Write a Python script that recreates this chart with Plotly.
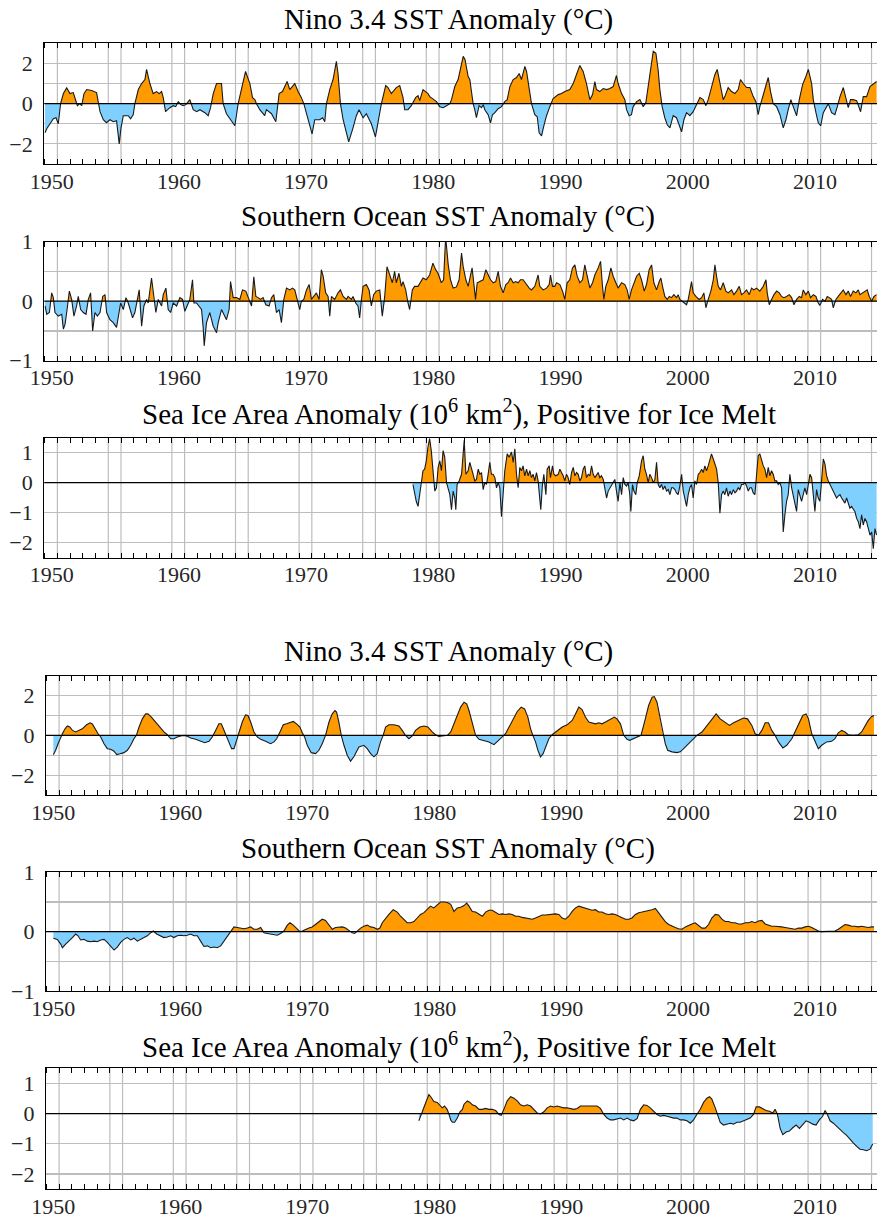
import plotly.graph_objects as go

# ---------------- data ----------------
NINO_T = [1949.48, 1949.61, 1949.87, 1950.13, 1950.34, 1950.52, 1950.70, 1950.92, 1951.18, 1951.44,
          1951.70, 1951.83, 1952.02, 1952.20, 1952.36, 1952.54, 1952.75, 1953.14, 1953.53, 1953.80,
          1954.06, 1954.30, 1954.58, 1954.85, 1955.10, 1955.31, 1955.45, 1955.63, 1956.02, 1956.20,
          1956.41, 1956.54, 1956.81, 1957.07, 1957.33, 1957.46, 1957.60, 1957.72, 1957.98, 1958.25,
          1958.45, 1958.64, 1958.77, 1958.95, 1959.29, 1959.55, 1959.75, 1959.95, 1960.15, 1960.34,
          1960.55, 1960.86, 1961.13, 1961.40, 1961.65, 1962.04, 1962.30, 1962.49, 1962.70, 1962.96,
          1963.35, 1963.48, 1963.74, 1964.14, 1964.40, 1964.66, 1965.00, 1965.24, 1965.58, 1965.79,
          1965.97, 1966.10, 1966.36, 1966.75, 1966.88, 1967.28, 1967.62, 1967.88, 1968.14, 1968.51,
          1968.72, 1969.11, 1969.37, 1969.63, 1969.82, 1970.16, 1970.47, 1970.68, 1971.07, 1971.30,
          1971.47, 1971.60, 1971.86, 1972.12, 1972.38, 1972.51, 1972.70, 1972.91, 1973.17, 1973.35,
          1973.69, 1973.95, 1974.16, 1974.48, 1974.74, 1975.13, 1975.45, 1975.65, 1975.92, 1976.26,
          1976.44, 1976.70, 1977.09, 1977.36, 1977.62, 1977.75, 1978.01, 1978.27, 1978.61, 1978.80,
          1978.93, 1979.19, 1979.58, 1979.72, 1979.99, 1980.25, 1980.51, 1980.77, 1981.04, 1981.30,
          1981.43, 1981.69, 1981.95, 1982.22, 1982.35, 1982.49, 1982.74, 1982.87, 1983.13, 1983.26,
          1983.39, 1983.60, 1983.79, 1983.92, 1984.05, 1984.31, 1984.50, 1984.65, 1984.84, 1985.10,
          1985.36, 1985.62, 1985.81, 1986.02, 1986.28, 1986.54, 1986.75, 1986.93, 1987.20, 1987.33,
          1987.54, 1987.72, 1987.98, 1988.17, 1988.32, 1988.51, 1988.69, 1988.90, 1989.16, 1989.42,
          1989.82, 1990.08, 1990.34, 1990.73, 1991.00, 1991.26, 1991.52, 1991.78, 1992.04, 1992.31,
          1992.52, 1992.70, 1992.83, 1993.09, 1993.36, 1993.62, 1993.88, 1994.14, 1994.40, 1994.53,
          1994.80, 1995.06, 1995.19, 1995.40, 1995.58, 1995.71, 1995.98, 1996.24, 1996.50, 1996.71,
          1996.89, 1997.08, 1997.29, 1997.50, 1997.68, 1997.81, 1997.99, 1998.20, 1998.39, 1998.60,
          1998.86, 1999.12, 1999.38, 1999.52, 1999.70, 1999.91, 2000.17, 2000.43, 2000.69, 2000.96,
          2001.22, 2001.43, 2001.61, 2001.87, 2002.14, 2002.32, 2002.53, 2002.79, 2002.92, 2003.18,
          2003.45, 2003.71, 2003.97, 2004.15, 2004.36, 2004.63, 2004.89, 2005.15, 2005.36, 2005.54,
          2005.67, 2005.88, 2006.15, 2006.33, 2006.51, 2006.72, 2006.99, 2007.25, 2007.51, 2007.72,
          2007.90, 2008.11, 2008.24, 2008.43, 2008.56, 2008.77, 2009.03, 2009.29, 2009.48, 2009.74,
          2009.87, 2010.08, 2010.26, 2010.45, 2010.66, 2010.92, 2011.05, 2011.31, 2011.57, 2011.76,
          2011.97, 2012.23, 2012.44, 2012.62, 2012.80, 2013.01, 2013.28, 2013.59, 2013.80, 2014.06,
          2014.33, 2014.59, 2014.85]
NINO_V = [-1.45, -1.25, -1.0, -0.75, -0.7, -1.0, 0.0, 0.5, 0.78, 0.5,
          0.55, 0.3, -0.1, 0.0, -0.1, 0.5, 0.7, 0.65, 0.55, -0.4,
          -0.8, -0.95, -0.8, -0.9, -0.85, -2.0, -1.2, -0.6, -0.6, -0.75,
          -0.55, 0.0, 0.7, 1.0, 1.2, 1.7, 1.3, 1.0, 0.5, 0.6,
          0.5, 0.6, 0.3, -0.4, -0.2, -0.1, -0.15, 0.1, -0.05, -0.1,
          -0.05, 0.2, -0.3, -0.4, -0.3, -0.45, -0.6, -0.2, 0.5, 1.0,
          1.0, 0.0, -0.5, -0.9, -1.1, 0.0, 1.0, 1.6, 1.0, 0.3,
          0.2, 0.0, -0.3, -0.6, -0.3, -0.5, -0.9, 0.5, 0.6, 1.1,
          0.7, 1.0, 0.6, 0.3, 0.0, -0.8, -1.5, -0.8, -0.8, -0.7,
          -0.9, 0.0, 0.7, 1.2, 2.1, 1.5, 0.0, -0.8, -1.5, -1.9,
          -1.2, -0.6, -0.3, -0.7, -0.5, -1.0, -1.65, -1.0, 0.0, 0.9,
          0.8, 0.5, 0.8, 0.9, 0.3, -0.3, -0.3, -0.1, 0.3, 0.4,
          0.15, 0.7, 0.5, 0.35, 0.2, 0.1, -0.15, -0.2, -0.1, 0.0,
          0.2, 0.85, 1.2, 2.0, 2.35, 2.2, 1.35, 1.2, 0.0, -0.3,
          -0.7, -0.1, -0.2, -0.05, -0.3, -0.55, -0.95, -0.55, -0.45, -0.25,
          -0.15, 0.1, 0.2, 0.85, 1.2, 1.3, 1.5, 1.2, 1.85, 1.6,
          0.85, 0.0, -0.55, -0.65, -1.45, -1.6, -1.1, -0.6, -0.15, 0.25,
          0.45, 0.5, 0.6, 0.7, 1.0, 1.5, 1.9, 1.6, 1.0, 0.2,
          0.45, 1.1, 0.7, 0.6, 0.75, 0.7, 0.75, 0.85, 1.4, 1.0,
          0.5, 0.2, -0.3, -0.6, -0.55, -0.15, 0.1, 0.2, -0.15, 0.05,
          0.85, 1.85, 2.6, 2.5, 1.65, 0.7, -0.15, -0.7, -1.05, -1.2,
          -0.6, -0.7, -1.1, -1.4, -0.8, -0.45, -0.6, -0.4, -0.05, 0.3,
          0.2, -0.1, 0.2, 0.85, 1.45, 1.7, 1.0, 0.2, 0.35, 0.8,
          0.6, 0.5, 0.7, 1.2, 1.0, 0.8, 0.8, 0.35, 0.1, -0.55,
          -0.15, 0.3, 1.0, 1.3, 0.6, 0.0, -0.15, -0.55, -1.2, -0.8,
          -0.3, 0.2, -0.05, -0.45, -0.6, 0.2, 0.95, 1.35, 1.7, 1.0,
          0.2, -0.45, -0.95, -1.1, -0.45, -0.15, 0.0, -0.45, -0.55, -0.15,
          0.35, 0.8, 0.2, -0.2, 0.2, 0.2, 0.15, -0.4, 0.35, 0.35,
          0.85, 1.0, 1.1]

SO_T = [1949.48, 1949.61, 1949.82, 1950.00, 1950.13, 1950.26, 1950.52, 1950.79, 1950.92, 1951.05,
        1951.18, 1951.39, 1951.57, 1951.75, 1951.96, 1952.09, 1952.28, 1952.49, 1952.70, 1952.88,
        1953.06, 1953.22, 1953.40, 1953.59, 1953.80, 1954.01, 1954.19, 1954.32, 1954.58, 1954.84,
        1955.10, 1955.24, 1955.42, 1955.63, 1955.84, 1956.02, 1956.15, 1956.36, 1956.54, 1956.73,
        1956.88, 1957.07, 1957.25, 1957.46, 1957.59, 1957.85, 1958.04, 1958.19, 1958.38, 1958.64,
        1958.77, 1958.98, 1959.16, 1959.35, 1959.55, 1959.82, 1960.08, 1960.29, 1960.47, 1960.65,
        1960.86, 1961.07, 1961.18, 1961.39, 1961.60, 1961.78, 1961.91, 1961.99, 1962.17, 1962.43,
        1962.70, 1962.96, 1963.09, 1963.35, 1963.53, 1963.74, 1963.95, 1964.06, 1964.27, 1964.53,
        1964.79, 1965.00, 1965.26, 1965.58, 1965.71, 1965.89, 1966.05, 1966.23, 1966.41, 1966.62,
        1966.83, 1967.09, 1967.28, 1967.46, 1967.67, 1967.88, 1968.06, 1968.25, 1968.46, 1968.72,
        1968.93, 1969.11, 1969.37, 1969.50, 1969.63, 1969.82, 1970.03, 1970.24, 1970.42, 1970.60,
        1970.81, 1971.02, 1971.20, 1971.34, 1971.54, 1971.73, 1971.86, 1971.99, 1972.25, 1972.51,
        1972.70, 1972.91, 1973.17, 1973.30, 1973.56, 1973.69, 1973.90, 1974.08, 1974.21, 1974.35,
        1974.48, 1974.74, 1974.95, 1975.13, 1975.31, 1975.52, 1975.79, 1975.99, 1976.18, 1976.36,
        1976.57, 1976.78, 1976.96, 1977.09, 1977.30, 1977.49, 1977.62, 1977.83, 1978.01, 1978.14,
        1978.35, 1978.53, 1978.80, 1979.06, 1979.19, 1979.45, 1979.71, 1979.97, 1980.18, 1980.37,
        1980.63, 1980.81, 1980.97, 1981.17, 1981.35, 1981.56, 1981.82, 1982.03, 1982.22, 1982.35,
        1982.56, 1982.74, 1982.92, 1983.05, 1983.18, 1983.32, 1983.45, 1983.66, 1983.92, 1984.13,
        1984.31, 1984.50, 1984.71, 1984.91, 1985.10, 1985.28, 1985.49, 1985.70, 1985.88, 1986.07,
        1986.28, 1986.49, 1986.67, 1986.85, 1987.06, 1987.33, 1987.54, 1987.72, 1987.98, 1988.24,
        1988.37, 1988.64, 1988.90, 1989.11, 1989.21, 1989.37, 1989.55, 1989.69, 1989.95, 1990.16,
        1990.34, 1990.52, 1990.73, 1990.94, 1991.13, 1991.31, 1991.52, 1991.73, 1991.91, 1992.10,
        1992.31, 1992.52, 1992.70, 1992.96, 1993.15, 1993.30, 1993.41, 1993.56, 1993.75, 1993.96,
        1994.14, 1994.35, 1994.53, 1994.80, 1995.06, 1995.24, 1995.40, 1995.58, 1995.77, 1995.98,
        1996.19, 1996.37, 1996.58, 1996.76, 1996.97, 1997.16, 1997.34, 1997.55, 1997.76, 1997.89,
        1998.02, 1998.20, 1998.39, 1998.55, 1998.73, 1998.91, 1999.12, 1999.25, 1999.38, 1999.59,
        1999.78, 1999.91, 2000.04, 2000.17, 2000.30, 2000.43, 2000.64, 2000.90, 2001.09, 2001.27,
        2001.43, 2001.61, 2001.82, 2002.01, 2002.14, 2002.27, 2002.40, 2002.58, 2002.79, 2003.00,
        2003.18, 2003.45, 2003.63, 2003.84, 2004.05, 2004.23, 2004.42, 2004.63, 2004.84, 2005.02,
        2005.20, 2005.41, 2005.67, 2005.94, 2006.15, 2006.25, 2006.41, 2006.59, 2006.78, 2006.99,
        2007.20, 2007.38, 2007.56, 2007.77, 2007.98, 2008.17, 2008.35, 2008.56, 2008.77, 2008.95,
        2009.08, 2009.29, 2009.48, 2009.66, 2009.87, 2010.08, 2010.26, 2010.39, 2010.60, 2010.79,
        2010.97, 2011.13, 2011.31, 2011.44, 2011.65, 2011.83, 2012.02, 2012.23, 2012.44, 2012.62,
        2012.80, 2013.01, 2013.22, 2013.41, 2013.54, 2013.75, 2013.93, 2014.11, 2014.27, 2014.46,
        2014.64, 2014.85]
SO_V = [-0.08, -0.22, -0.19, 0.14, 0.06, -0.19, -0.25, -0.22, -0.47, -0.39,
        -0.19, 0.17, 0.03, -0.25, -0.08, 0.08, -0.14, -0.19, -0.22, 0.03,
        0.14, -0.5, -0.19, -0.25, -0.19, 0.08, 0.11, -0.19, -0.31, -0.36,
        -0.44, -0.28, -0.03, -0.14, 0.06, -0.03, -0.14, -0.28, -0.19, 0.03,
        0.19, -0.42, -0.08, 0.03, -0.03, 0.39, 0.0, -0.19, 0.03, -0.08,
        0.11, 0.22, -0.14, -0.19, -0.03, -0.08, 0.06, 0.03, -0.17, -0.08,
        0.03, 0.36, -0.03, -0.03, -0.08, -0.14, -0.44, -0.75, -0.36, -0.19,
        -0.42, -0.53, -0.36, -0.14, -0.22, -0.31, -0.14, 0.33, 0.06, 0.06,
        0.03, 0.19, 0.17, -0.03, -0.08, 0.41, 0.08, 0.06, 0.03, 0.06,
        -0.06, -0.08, 0.06, 0.11, -0.19, -0.14, -0.36, 0.03, 0.22, 0.19,
        0.22, 0.19, -0.03, -0.14, 0.0, 0.03, 0.19, 0.28, 0.03, 0.08,
        0.14, 0.03, 0.53, 0.42, 0.14, 0.08, -0.25, 0.08, 0.03, 0.14,
        0.19, 0.08, 0.03, 0.08, 0.03, 0.08, -0.03, -0.08, -0.28, 0.03,
        0.25, 0.28, 0.19, -0.08, 0.11, 0.17, 0.19, -0.25, 0.08, 0.58,
        0.44, 0.31, 0.50, 0.31, 0.47, 0.25, 0.33, 0.19, -0.03, -0.14,
        0.19, 0.25, 0.25, 0.33, 0.39, 0.36, 0.44, 0.64, 0.53, 0.47,
        0.31, 0.36, 1.08, 0.62, 0.36, 0.22, 0.24, 0.36, 0.81, 0.58,
        0.36, 0.25, 0.42, 0.56, 0.31, 0.03, 0.31, 0.33, 0.36, 0.53,
        0.44, 0.36, 0.31, 0.33, 0.50, 0.25, 0.14, 0.28, 0.31, 0.39,
        0.31, 0.33, 0.31, 0.36, 0.36, 0.28, 0.22, 0.19, 0.25, 0.44,
        0.25, 0.19, 0.22, 0.28, 0.44, 0.25, 0.25, 0.31, 0.28, 0.17,
        0.03, 0.31, 0.36, 0.56, 0.61, 0.42, 0.31, 0.36, 0.61, 0.42,
        0.22, 0.31, 0.44, 0.56, 0.67, 0.25, 0.03, 0.25, 0.36, 0.56,
        0.42, 0.31, 0.22, 0.31, 0.28, 0.19, 0.03, 0.19, 0.31, 0.42,
        0.47, 0.36, 0.17, 0.28, 0.53, 0.61, 0.31, 0.19, 0.33, 0.39,
        0.25, 0.08, 0.03, 0.08, 0.06, 0.11, 0.06, 0.11, 0.03, 0.0,
        -0.03, -0.06, 0.03, 0.22, 0.33, 0.14, 0.08, 0.03, 0.06, 0.14,
        -0.11, 0.03, 0.17, 0.36, 0.61, 0.42, 0.25, 0.19, 0.31, 0.17,
        0.14, 0.19, 0.11, 0.17, 0.25, 0.11, 0.14, 0.19, 0.11, 0.22,
        0.19, 0.22, 0.17, 0.25, 0.36, 0.14, -0.06, 0.03, 0.11, 0.17,
        0.14, 0.08, 0.06, 0.08, 0.11, 0.06, -0.06, 0.03, 0.08, 0.06,
        0.19, 0.11, 0.17, 0.06, 0.11, 0.08, -0.03, -0.07, 0.03, 0.0,
        0.08, 0.06, 0.03, -0.11, 0.03, 0.08, 0.14, 0.19, 0.11, 0.17,
        0.08, 0.17, 0.14, 0.19, 0.11, 0.14, 0.17, 0.19, 0.08, 0.0,
        0.08, 0.11]

ICE_T = [1978.40, 1978.53, 1978.66, 1978.80, 1978.93, 1979.06, 1979.19, 1979.32, 1979.45, 1979.58,
         1979.71, 1979.84, 1979.97, 1980.12, 1980.25, 1980.38, 1980.51, 1980.64, 1980.77, 1980.90,
         1981.04, 1981.17, 1981.30, 1981.43, 1981.56, 1981.69, 1981.77, 1981.87, 1982.03, 1982.22,
         1982.35, 1982.43, 1982.56, 1982.74, 1982.87, 1983.00, 1983.13, 1983.26, 1983.39, 1983.53,
         1983.66, 1983.79, 1983.92, 1984.05, 1984.18, 1984.31, 1984.44, 1984.57, 1984.70, 1984.84,
         1984.97, 1985.10, 1985.23, 1985.36, 1985.49, 1985.62, 1985.81, 1985.96, 1986.15, 1986.28,
         1986.41, 1986.54, 1986.67, 1986.80, 1986.93, 1987.06, 1987.19, 1987.33, 1987.46, 1987.59,
         1987.72, 1987.85, 1987.98, 1988.11, 1988.24, 1988.37, 1988.45, 1988.58, 1988.69, 1988.85,
         1988.95, 1989.11, 1989.21, 1989.37, 1989.48, 1989.63, 1989.82, 1989.95, 1990.08, 1990.21,
         1990.34, 1990.47, 1990.60, 1990.73, 1990.87, 1991.00, 1991.13, 1991.26, 1991.39, 1991.52,
         1991.65, 1991.78, 1991.91, 1992.04, 1992.18, 1992.31, 1992.44, 1992.57, 1992.70, 1992.83,
         1992.96, 1993.09, 1993.22, 1993.36, 1993.49, 1993.62, 1993.75, 1993.88, 1994.01, 1994.14,
         1994.27, 1994.40, 1994.53, 1994.67, 1994.80, 1994.93, 1995.06, 1995.19, 1995.32, 1995.45,
         1995.53, 1995.66, 1995.77, 1995.92, 1996.03, 1996.19, 1996.37, 1996.50, 1996.63, 1996.76,
         1996.89, 1997.02, 1997.16, 1997.29, 1997.42, 1997.55, 1997.68, 1997.81, 1997.94, 1998.07,
         1998.20, 1998.34, 1998.47, 1998.60, 1998.73, 1998.86, 1998.99, 1999.12, 1999.25, 1999.38,
         1999.52, 1999.65, 1999.78, 1999.91, 2000.04, 2000.17, 2000.30, 2000.43, 2000.56, 2000.69,
         2000.83, 2000.96, 2001.09, 2001.22, 2001.35, 2001.48, 2001.61, 2001.74, 2001.87, 2002.01,
         2002.14, 2002.27, 2002.40, 2002.53, 2002.66, 2002.79, 2002.92, 2003.05, 2003.18, 2003.32,
         2003.45, 2003.58, 2003.71, 2003.84, 2003.97, 2004.10, 2004.23, 2004.36, 2004.50, 2004.63,
         2004.76, 2004.89, 2005.02, 2005.15, 2005.28, 2005.41, 2005.54, 2005.67, 2005.81, 2005.94,
         2006.07, 2006.20, 2006.33, 2006.46, 2006.59, 2006.72, 2006.85, 2006.99, 2007.12, 2007.25,
         2007.38, 2007.51, 2007.64, 2007.77, 2007.90, 2008.03, 2008.17, 2008.30, 2008.43, 2008.56,
         2008.69, 2008.82, 2008.95, 2009.08, 2009.21, 2009.35, 2009.48, 2009.61, 2009.74, 2009.87,
         2010.00, 2010.13, 2010.26, 2010.39, 2010.52, 2010.66, 2010.79, 2010.92, 2011.05, 2011.18,
         2011.31, 2011.44, 2011.57, 2011.70, 2011.83, 2011.97, 2012.10, 2012.23, 2012.36, 2012.49,
         2012.62, 2012.75, 2012.88, 2013.01, 2013.14, 2013.28, 2013.41, 2013.54, 2013.67, 2013.80,
         2013.93, 2014.06, 2014.19, 2014.33, 2014.46, 2014.59, 2014.72, 2014.85]
ICE_V = [-0.06, -0.40, -0.62, -0.79, -0.40, 0.0, 0.40, 0.45, 0.73, 1.19,
         1.47, 1.07, 0.40, -0.28, -0.17, 0.51, 0.73, 0.40, 1.07, 0.85,
         0.0, -0.17, -0.40, -0.90, -0.28, -0.51, -0.90, -0.06, 0.06, 0.28,
         0.96, 1.41, 0.28, 0.40, 0.68, 0.51, 0.28, 0.06, 0.11, 0.45,
         0.28, 0.34, -0.23, 0.0, -0.06, 0.28, 0.68, 0.28, 0.28, 0.17,
         -0.17, 0.0, -0.17, -1.13, -0.34, 0.40, 0.96, 0.85, 1.02, 0.68,
         1.13, 0.28, -0.17, 0.51, 0.40, 0.56, 0.23, 0.45, 0.23, 0.40,
         0.17, 0.28, 0.06, 0.34, 0.06, -0.62, -0.90, -0.06, 0.28, -0.40,
         0.45, 0.56, 0.17, 0.56, 0.28, 0.23, 0.28, 0.45, 0.34, 0.23,
         0.06, 0.28, 0.17, -0.06, 0.34, 0.51, 0.23, 0.34, 0.28, 0.06,
         0.17, 0.45, 0.56, 0.17, 0.28, 0.23, 0.56, 0.28, 0.17, 0.28,
         0.34, 0.17, 0.23, 0.11, -0.17, -0.51, -0.28, -0.17, -0.06, 0.0,
         0.11, -0.28, -0.62, 0.0, -0.40, 0.17, -0.06, -0.11, 0.0, -0.40,
         -0.96, -0.06, -0.28, -0.40, 0.0, 0.23, 0.73, 0.90, 0.45, 0.28,
         0.0, 0.28, 0.17, 0.0, 0.11, 0.68, -0.06, -0.17, -0.06, -0.23,
         -0.11, -0.28, -0.23, -0.40, -0.17, -0.17, -0.23, -0.34, -0.40, -0.11,
         0.28, -0.28, -0.56, -0.79, -0.40, -0.17, -0.06, -0.51, 0.06, -0.06,
         0.28, 0.34, 0.45, 0.34, 0.56, 0.40, 0.56, 0.73, 0.96, 0.79,
         0.62, 0.45, 0.0, -1.02, -0.40, -0.28, -0.40, -0.17, -0.45, -0.28,
         -0.40, -0.23, -0.34, -0.28, -0.17, -0.23, -0.06, -0.06, 0.0, -0.11,
         -0.28, -0.17, -0.17, -0.34, -0.40, 0.17, 0.90, 0.96, 0.73, 0.56,
         0.45, 0.17, 0.51, 0.23, 0.40, 0.28, 0.06, 0.06, -0.06, 0.0,
         -0.17, -1.64, -1.07, -0.62, -0.40, 0.28, -0.17, -0.40, -0.73, -0.96,
         -0.23, -0.40, -0.62, -0.40, -0.17, -0.40, -0.06, 0.28, 0.17, -0.40,
         -0.96, -0.23, -0.51, -0.62, -0.06, 0.79, 0.62, 0.23, 0.06, -0.06,
         -0.17, -0.28, -0.40, -0.51, -0.45, -0.40, -0.51, -0.62, -0.68, -0.51,
         -0.73, -0.85, -0.79, -0.90, -0.96, -1.19, -1.30, -1.53, -1.07, -1.41,
         -1.19, -1.30, -1.53, -1.75, -1.64, -2.20, -1.53, -1.75]

NINO_S_T = [1950.00, 1950.18, 1950.37, 1950.58, 1950.71, 1950.92, 1951.10, 1951.29, 1951.50, 1951.76,
            1952.02, 1952.28, 1952.62, 1952.89, 1953.07, 1953.28, 1953.52, 1953.73, 1953.99, 1954.25,
            1954.51, 1954.78, 1954.99, 1955.25, 1955.56, 1955.83, 1956.09, 1956.35, 1956.54, 1956.75,
            1957.01, 1957.27, 1957.45, 1957.72, 1958.06, 1958.40, 1958.71, 1958.98, 1959.24, 1959.50,
            1959.76, 1960.03, 1960.29, 1960.55, 1960.81, 1961.21, 1961.60, 1961.92, 1962.26, 1962.52,
            1962.78, 1963.04, 1963.23, 1963.44, 1963.65, 1963.83, 1964.04, 1964.23, 1964.41, 1964.62,
            1964.88, 1965.14, 1965.33, 1965.54, 1965.80, 1966.06, 1966.33, 1966.72, 1967.11, 1967.38,
            1967.59, 1967.85, 1968.11, 1968.37, 1968.64, 1968.90, 1969.16, 1969.42, 1969.61, 1969.79,
            1970.00, 1970.31, 1970.66, 1970.92, 1971.18, 1971.44, 1971.71, 1971.97, 1972.18, 1972.31,
            1972.49, 1972.68, 1972.89, 1973.15, 1973.41, 1973.67, 1974.07, 1974.46, 1974.72, 1974.99,
            1975.25, 1975.51, 1975.77, 1975.98, 1976.17, 1976.43, 1976.82, 1977.22, 1977.48, 1977.74,
            1978.01, 1978.27, 1978.53, 1978.87, 1979.19, 1979.50, 1979.84, 1980.10, 1980.37, 1980.64,
            1981.04, 1981.30, 1981.56, 1981.82, 1982.08, 1982.35, 1982.56, 1982.74, 1983.00, 1983.26,
            1983.53, 1983.92, 1984.31, 1984.71, 1984.97, 1985.36, 1985.62, 1985.88, 1986.23, 1986.54,
            1986.85, 1987.12, 1987.38, 1987.59, 1987.77, 1987.98, 1988.17, 1988.37, 1988.58, 1988.77,
            1989.03, 1989.29, 1989.69, 1990.08, 1990.47, 1990.87, 1991.13, 1991.39, 1991.65, 1991.91,
            1992.18, 1992.44, 1992.70, 1992.96, 1993.22, 1993.49, 1993.88, 1994.19, 1994.40, 1994.67,
            1994.93, 1995.19, 1995.40, 1995.66, 1995.98, 1996.29, 1996.63, 1996.89, 1997.16, 1997.34,
            1997.55, 1997.81, 1998.02, 1998.20, 1998.39, 1998.73, 1999.12, 1999.38, 1999.65, 2000.04,
            2000.43, 2000.69, 2001.09, 2001.48, 2001.87, 2002.21, 2002.53, 2002.92, 2003.26, 2003.58,
            2003.97, 2004.36, 2004.68, 2005.02, 2005.28, 2005.54, 2005.81, 2006.07, 2006.33, 2006.59,
            2006.85, 2007.12, 2007.46, 2007.77, 2008.17, 2008.43, 2008.69, 2009.03, 2009.29, 2009.48,
            2009.74, 2010.00, 2010.26, 2010.52, 2010.92, 2011.31, 2011.57, 2011.83, 2012.10, 2012.36,
            2012.62, 2013.01, 2013.41, 2013.67, 2013.93, 2014.19, 2014.46, 2014.64]
NINO_S_V = [-0.97, -0.75, -0.42, -0.08, 0.08, 0.33, 0.47, 0.42, 0.25, 0.17,
            0.25, 0.33, 0.53, 0.63, 0.57, 0.33, 0.08, -0.08, -0.42, -0.67,
            -0.70, -0.80, -0.97, -0.93, -0.87, -0.75, -0.50, -0.17, 0.0, 0.42,
            0.83, 1.08, 1.08, 0.92, 0.67, 0.42, 0.17, 0.03, -0.17, -0.17,
            -0.08, -0.03, 0.0, -0.05, -0.13, -0.20, -0.30, -0.37, -0.30, -0.08,
            0.25, 0.58, 0.58, 0.25, 0.0, -0.33, -0.67, -0.67, -0.33, 0.17,
            0.67, 1.03, 1.0, 0.67, 0.17, -0.08, -0.20, -0.30, -0.42, -0.33,
            -0.17, 0.17, 0.53, 0.58, 0.63, 0.70, 0.58, 0.42, 0.13, -0.08,
            -0.50, -0.87, -0.92, -0.75, -0.42, 0.0, 0.67, 1.08, 1.25, 1.17,
            0.67, 0.0, -0.50, -1.0, -1.30, -1.08, -0.58, -0.50, -0.67, -0.92,
            -1.08, -0.92, -0.33, 0.0, 0.42, 0.53, 0.53, 0.47, 0.25, 0.0,
            -0.17, -0.03, 0.25, 0.42, 0.47, 0.42, 0.17, 0.03, -0.05, -0.03,
            0.0, 0.17, 0.58, 1.0, 1.42, 1.67, 1.58, 1.25, 0.67, 0.0,
            -0.20, -0.25, -0.33, -0.47, -0.33, -0.08, 0.08, 0.42, 0.83, 1.20,
            1.42, 1.33, 0.92, 0.33, 0.0, -0.33, -0.75, -1.08, -0.92, -0.58,
            -0.17, 0.03, 0.25, 0.42, 0.53, 0.75, 1.08, 1.42, 1.30, 0.92,
            0.67, 0.63, 0.58, 0.63, 0.58, 0.67, 0.83, 0.92, 0.83, 0.58,
            0.0, -0.20, -0.25, -0.17, -0.08, 0.0, 0.83, 1.50, 1.92, 1.95,
            1.67, 0.83, 0.0, -0.42, -0.75, -0.83, -0.87, -0.83, -0.67, -0.42,
            -0.17, 0.0, 0.17, 0.50, 0.83, 1.08, 0.83, 0.63, 0.50, 0.63,
            0.75, 0.87, 0.83, 0.50, 0.08, 0.0, 0.25, 0.63, 0.63, 0.25,
            0.0, -0.33, -0.63, -0.50, -0.17, 0.17, 0.58, 1.0, 1.08, 0.83,
            0.08, -0.33, -0.67, -0.50, -0.33, -0.30, -0.17, 0.13, 0.25, 0.17,
            0.03, 0.0, 0.03, 0.17, 0.50, 0.75, 0.95, 1.0]

SO_S_T = [1950.00, 1950.31, 1950.58, 1950.71, 1950.97, 1951.23, 1951.50, 1951.76, 1951.94, 1952.15,
          1952.41, 1952.68, 1952.94, 1953.20, 1953.46, 1953.73, 1953.99, 1954.25, 1954.51, 1954.78,
          1955.04, 1955.30, 1955.56, 1955.83, 1956.09, 1956.35, 1956.61, 1956.88, 1957.14, 1957.40,
          1957.66, 1957.87, 1958.14, 1958.45, 1958.71, 1958.98, 1959.24, 1959.50, 1959.76, 1960.03,
          1960.29, 1960.55, 1960.81, 1961.08, 1961.34, 1961.60, 1961.86, 1962.13, 1962.39, 1962.65,
          1962.91, 1963.18, 1963.44, 1963.70, 1963.96, 1964.23, 1964.49, 1964.75, 1965.01, 1965.28,
          1965.54, 1965.80, 1966.06, 1966.33, 1966.59, 1966.85, 1967.11, 1967.38, 1967.64, 1967.90,
          1968.16, 1968.43, 1968.64, 1968.90, 1969.21, 1969.42, 1969.61, 1969.87, 1970.13, 1970.39,
          1970.66, 1970.92, 1971.18, 1971.44, 1971.71, 1971.97, 1972.23, 1972.49, 1972.76, 1973.02,
          1973.28, 1973.54, 1973.73, 1973.94, 1974.20, 1974.46, 1974.72, 1974.99, 1975.25, 1975.51,
          1975.72, 1975.91, 1976.17, 1976.43, 1976.77, 1977.09, 1977.35, 1977.61, 1977.87, 1978.14,
          1978.40, 1978.66, 1978.92, 1979.19, 1979.45, 1979.71, 1979.97, 1980.24, 1980.50, 1980.77,
          1981.04, 1981.30, 1981.56, 1981.82, 1982.08, 1982.35, 1982.56, 1982.74, 1983.00, 1983.26,
          1983.53, 1983.79, 1984.05, 1984.31, 1984.57, 1984.84, 1985.10, 1985.36, 1985.62, 1985.88,
          1986.15, 1986.41, 1986.67, 1986.93, 1987.20, 1987.46, 1987.72, 1987.98, 1988.24, 1988.51,
          1988.77, 1989.03, 1989.29, 1989.55, 1989.82, 1990.08, 1990.34, 1990.60, 1990.87, 1991.13,
          1991.39, 1991.65, 1991.91, 1992.18, 1992.44, 1992.70, 1992.96, 1993.22, 1993.49, 1993.75,
          1994.01, 1994.27, 1994.53, 1994.80, 1995.06, 1995.32, 1995.58, 1995.85, 1996.11, 1996.37,
          1996.63, 1996.89, 1997.16, 1997.42, 1997.68, 1997.94, 1998.20, 1998.47, 1998.73, 1998.99,
          1999.25, 1999.52, 1999.78, 2000.04, 2000.30, 2000.56, 2000.83, 2001.09, 2001.35, 2001.61,
          2001.87, 2002.14, 2002.40, 2002.66, 2002.92, 2003.18, 2003.45, 2003.71, 2003.97, 2004.23,
          2004.50, 2004.76, 2005.02, 2005.28, 2005.54, 2005.81, 2006.07, 2006.33, 2006.59, 2006.85,
          2007.12, 2007.38, 2007.64, 2007.90, 2008.17, 2008.43, 2008.69, 2008.95, 2009.21, 2009.48,
          2009.74, 2010.00, 2010.26, 2010.52, 2010.79, 2011.05, 2011.31, 2011.57, 2011.83, 2012.10,
          2012.36, 2012.62, 2012.88, 2013.14, 2013.41, 2013.67, 2013.93, 2014.19, 2014.46, 2014.64]
SO_S_V = [-0.11, -0.13, -0.21, -0.27, -0.21, -0.16, -0.10, -0.04, -0.07, -0.14,
          -0.13, -0.16, -0.17, -0.16, -0.17, -0.14, -0.13, -0.18, -0.24, -0.31,
          -0.26, -0.18, -0.13, -0.10, -0.14, -0.11, -0.16, -0.13, -0.09, -0.07,
          -0.02, 0.01, -0.04, -0.07, -0.10, -0.09, -0.07, -0.10, -0.07, -0.06,
          -0.07, -0.06, -0.04, -0.07, -0.07, -0.16, -0.25, -0.24, -0.27, -0.26,
          -0.27, -0.24, -0.16, -0.07, 0.01, 0.08, 0.07, 0.06, 0.05, 0.06,
          0.08, 0.04, 0.04, 0.07, -0.02, -0.03, -0.04, -0.04, -0.06, -0.03,
          0.01, 0.11, 0.15, 0.11, 0.04, 0.0, 0.01, 0.04, 0.06, 0.08,
          0.12, 0.17, 0.21, 0.19, 0.11, 0.04, 0.07, 0.08, 0.08, 0.06,
          0.02, -0.02, -0.03, 0.01, 0.06, 0.09, 0.11, 0.08, 0.07, 0.04,
          0.06, 0.15, 0.23, 0.29, 0.37, 0.33, 0.26, 0.21, 0.15, 0.15,
          0.17, 0.23, 0.29, 0.32, 0.37, 0.43, 0.40, 0.46, 0.50, 0.50,
          0.49, 0.46, 0.34, 0.40, 0.41, 0.44, 0.48, 0.43, 0.34, 0.33,
          0.29, 0.26, 0.33, 0.36, 0.36, 0.33, 0.29, 0.30, 0.29, 0.30,
          0.29, 0.26, 0.26, 0.24, 0.23, 0.22, 0.21, 0.23, 0.26, 0.28,
          0.28, 0.29, 0.29, 0.30, 0.29, 0.23, 0.21, 0.26, 0.34, 0.40,
          0.43, 0.41, 0.39, 0.37, 0.36, 0.37, 0.33, 0.33, 0.30, 0.29,
          0.30, 0.29, 0.26, 0.23, 0.21, 0.21, 0.23, 0.29, 0.32, 0.33,
          0.34, 0.36, 0.37, 0.39, 0.32, 0.23, 0.17, 0.12, 0.09, 0.07,
          0.05, 0.04, 0.08, 0.11, 0.13, 0.15, 0.11, 0.06, 0.06, 0.12,
          0.23, 0.29, 0.28, 0.21, 0.17, 0.17, 0.15, 0.15, 0.13, 0.13,
          0.15, 0.15, 0.17, 0.15, 0.18, 0.19, 0.13, 0.11, 0.09, 0.09,
          0.09, 0.08, 0.07, 0.06, 0.04, 0.04, 0.06, 0.06, 0.08, 0.09,
          0.07, 0.04, 0.01, 0.0, 0.0, 0.0, 0.01, 0.01, 0.04, 0.08,
          0.12, 0.11, 0.09, 0.09, 0.08, 0.09, 0.08, 0.07, 0.08, 0.08]

ICE_S_T = [1978.79, 1978.98, 1979.19, 1979.40, 1979.58, 1979.76, 1979.97, 1980.24, 1980.45, 1980.63,
           1980.81, 1981.02, 1981.17, 1981.30, 1981.43, 1981.61, 1981.82, 1982.03, 1982.22, 1982.35,
           1982.61, 1982.82, 1983.00, 1983.26, 1983.53, 1983.79, 1984.05, 1984.31, 1984.57, 1984.84,
           1985.10, 1985.28, 1985.49, 1985.75, 1986.02, 1986.28, 1986.54, 1986.80, 1987.06, 1987.33,
           1987.59, 1987.85, 1988.11, 1988.37, 1988.64, 1988.90, 1989.16, 1989.42, 1989.69, 1989.95,
           1990.21, 1990.47, 1990.73, 1991.00, 1991.26, 1991.52, 1991.78, 1992.04, 1992.31, 1992.57,
           1992.83, 1993.09, 1993.36, 1993.62, 1993.88, 1994.14, 1994.40, 1994.67, 1994.93, 1995.19,
           1995.45, 1995.71, 1995.98, 1996.24, 1996.50, 1996.76, 1997.02, 1997.29, 1997.55, 1997.81,
           1998.07, 1998.34, 1998.60, 1998.86, 1999.12, 1999.38, 1999.65, 1999.91, 2000.17, 2000.43,
           2000.69, 2000.96, 2001.22, 2001.48, 2001.69, 2001.87, 2002.14, 2002.32, 2002.53, 2002.79,
           2003.05, 2003.32, 2003.58, 2003.84, 2004.10, 2004.36, 2004.63, 2004.89, 2005.15, 2005.36,
           2005.62, 2005.88, 2006.15, 2006.41, 2006.67, 2006.85, 2007.04, 2007.25, 2007.46, 2007.72,
           2007.98, 2008.24, 2008.51, 2008.77, 2009.03, 2009.29, 2009.56, 2009.82, 2010.08, 2010.34,
           2010.60, 2010.79, 2010.97, 2011.18, 2011.44, 2011.70, 2011.97, 2012.23, 2012.49, 2012.75,
           2013.01, 2013.28, 2013.54, 2013.80, 2014.06, 2014.33, 2014.54]
ICE_S_V = [-0.24, -0.03, 0.25, 0.48, 0.63, 0.54, 0.40, 0.37, 0.29, 0.19,
           0.25, 0.14, -0.03, -0.21, -0.29, -0.29, -0.15, 0.06, 0.14, 0.31,
           0.42, 0.37, 0.29, 0.25, 0.14, 0.14, 0.17, 0.14, 0.14, 0.10,
           -0.03, -0.06, 0.14, 0.42, 0.56, 0.51, 0.42, 0.29, 0.25, 0.29,
           0.25, 0.14, 0.02, -0.01, 0.06, 0.19, 0.25, 0.22, 0.25, 0.22,
           0.19, 0.19, 0.17, 0.14, 0.17, 0.25, 0.25, 0.25, 0.25, 0.25,
           0.25, 0.17, -0.03, -0.15, -0.21, -0.21, -0.17, -0.15, -0.21, -0.15,
           -0.21, -0.24, -0.17, 0.14, 0.29, 0.27, 0.19, 0.08, -0.03, -0.09,
           -0.06, -0.09, -0.13, -0.15, -0.15, -0.21, -0.21, -0.24, -0.32, -0.21,
           -0.03, 0.14, 0.37, 0.51, 0.56, 0.48, 0.19, -0.03, -0.29, -0.38,
           -0.35, -0.32, -0.35, -0.29, -0.29, -0.24, -0.21, -0.15, -0.03, 0.22,
           0.22, 0.17, 0.10, 0.08, 0.02, 0.14, -0.03, -0.49, -0.70, -0.61,
           -0.58, -0.47, -0.38, -0.49, -0.38, -0.24, -0.29, -0.35, -0.38, -0.21,
           -0.09, 0.10, -0.03, -0.24, -0.32, -0.43, -0.51, -0.63, -0.72, -0.86,
           -0.97, -1.09, -1.18, -1.20, -1.23, -1.18, -1.01]

TITLE_NINO = "Nino 3.4 SST Anomaly (°C)"
TITLE_SO = "Southern Ocean SST Anomaly (°C)"
TITLE_ICE = "Sea Ice Area Anomaly (10<sup>6</sup> km<sup>2</sup>), Positive for Ice Melt"

X_LABEL_YEARS = [1950, 1960, 1970, 1980, 1990, 2000, 2010]
GRID_YEARS = [1950, 1954, 1955, 1959, 1960, 1964, 1965, 1969, 1970, 1974, 1975, 1979, 1980,
              1984, 1985, 1989, 1990, 1994, 1995, 1999, 2000, 2004, 2005, 2009, 2010, 2014]
TICK_YEARS = list(range(1949, 2015))

# ---------------- style / layout ----------------
W, H = 877, 1218
XRANGE = [1949.42, 2014.88]
MARK_OFFSET = 0.45          # ticks & grid lines sit slightly right of the labels
ORANGE = "#FF9A00"
BLUE = "#80D0FF"
GRID = "#BDBDBD"
SERIF = "Liberation Serif, Times New Roman, serif"

Y3 = dict(range=[-3, 3], tickvals=[-2, -1, 0, 1, 2], ticktext=["−2", "", "0", "", "2"])
Y1 = dict(range=[-1, 1], tickvals=[-1, -0.5, 0, 0.5, 1], ticktext=["−1", "", "0", "", "1"])
YI = dict(range=[-2.5, 1.5], tickvals=[-2, -1, 0, 1], ticktext=["−2", "−1", "0", "1"])

PANELS = [
    dict(t=NINO_T, v=NINO_V, top=43.3, bottom=164.0, left=44.3, y=Y3, title=TITLE_NINO, ty=20, tx=448),
    dict(t=SO_T, v=SO_V, top=241.7, bottom=360.7, left=44.3, y=Y1, title=TITLE_SO, ty=217, tx=448),
    dict(t=ICE_T, v=ICE_V, top=437.7, bottom=557.7, left=44.3, y=YI, title=TITLE_ICE, ty=413, tx=459),
    dict(t=NINO_S_T, v=NINO_S_V, top=675.7, bottom=795.0, left=46.0, y=Y3, title=TITLE_NINO, ty=651, tx=448),
    dict(t=SO_S_T, v=SO_S_V, top=872.3, bottom=991.0, left=46.0, y=Y1, title=TITLE_SO, ty=848, tx=448),
    dict(t=ICE_S_T, v=ICE_S_V, top=1068.3, bottom=1189.0, left=46.0, y=YI, title=TITLE_ICE, ty=1045, tx=459),
]


def split_at_zero(t, v):
    """Insert the zero crossings so the two-colour fill meets exactly at the axis."""
    xs, ys = [t[0]], [v[0]]
    for i in range(1, len(t)):
        a, b = v[i - 1], v[i]
        if (a > 0 > b) or (a < 0 < b):
            xs.append(t[i - 1] + (t[i] - t[i - 1]) * a / (a - b))
            ys.append(0.0)
        xs.append(t[i])
        ys.append(b)
    return xs, [max(y, 0.0) for y in ys], [min(y, 0.0) for y in ys]


fig = go.Figure()
shapes, annotations = [], []
tick_font = dict(family=SERIF, size=22, color="#262626")

for i, p in enumerate(PANELS, start=1):
    assert len(p["t"]) == len(p["v"]), (i, len(p["t"]), len(p["v"]))
    sfx = "" if i == 1 else str(i)
    xa, ya = "x" + sfx, "y" + sfx
    xs, pos, neg = split_at_zero(p["t"], p["v"])
    fig.add_trace(go.Scatter(x=xs, y=pos, xaxis=xa, yaxis=ya, mode="lines", fill="tozeroy",
                             fillcolor=ORANGE, line=dict(width=0), hoverinfo="skip", showlegend=False))
    fig.add_trace(go.Scatter(x=xs, y=neg, xaxis=xa, yaxis=ya, mode="lines", fill="tozeroy",
                             fillcolor=BLUE, line=dict(width=0), hoverinfo="skip", showlegend=False))
    fig.add_trace(go.Scatter(x=p["t"], y=p["v"], xaxis=xa, yaxis=ya, mode="lines",
                             line=dict(color="#1a1a1a", width=1.1), hoverinfo="skip", showlegend=False))

    fig.layout["xaxis" + sfx] = dict(
        domain=[p["left"] / W, 1.0], range=XRANGE, anchor=ya, automargin=False,
        tickmode="array", tickvals=X_LABEL_YEARS, ticktext=[str(y) for y in X_LABEL_YEARS],
        ticks="", showgrid=False, zeroline=False, tickfont=tick_font, ticklabelstandoff=-3,
        showline=True, linecolor="black", linewidth=1.2, mirror="ticks",
        minor=dict(tickmode="array", tickvals=[y + MARK_OFFSET for y in TICK_YEARS],
                   ticks="inside", ticklen=5, tickwidth=1, tickcolor="black", showgrid=False),
    )
    fig.layout["yaxis" + sfx] = dict(
        domain=[1 - p["bottom"] / H, 1 - p["top"] / H], anchor=xa, automargin=False,
        range=p["y"]["range"], tickmode="array", tickvals=p["y"]["tickvals"],
        ticktext=p["y"]["ticktext"], ticks="", tickfont=tick_font, ticklabelstandoff=6,
        showgrid=True, gridcolor=GRID, gridwidth=1.2, zeroline=False,
        showline=True, linecolor="black", linewidth=1.2, mirror=False,
    )
    for g in GRID_YEARS:
        shapes.append(dict(type="line", xref=xa, yref=ya + " domain", x0=g + MARK_OFFSET,
                           x1=g + MARK_OFFSET, y0=0, y1=1, layer="below",
                           line=dict(color=GRID, width=1.2)))
    shapes.append(dict(type="line", xref=xa + " domain", yref=ya, x0=0, x1=1, y0=0, y1=0,
                       layer="above", line=dict(color="black", width=1.3)))
    annotations.append(dict(text=p["title"], xref="paper", yref="paper", x=p["tx"] / W,
                            y=1 - p["ty"] / H, xanchor="center", yanchor="middle", showarrow=False,
                            font=dict(family=SERIF, size=29, color="black")))

fig.update_layout(width=W, height=H, margin=dict(l=0, r=0, t=0, b=0, autoexpand=False),
                  paper_bgcolor="white", plot_bgcolor="white",
                  shapes=shapes, annotations=annotations, showlegend=False)

# the page's default 8px body margin would shift the whole figure; remove it
fig.write_html("out.html", config={"displayModeBar": False, "staticPlot": True},
               post_script="document.body.style.margin='0';document.body.style.overflow='hidden';")
